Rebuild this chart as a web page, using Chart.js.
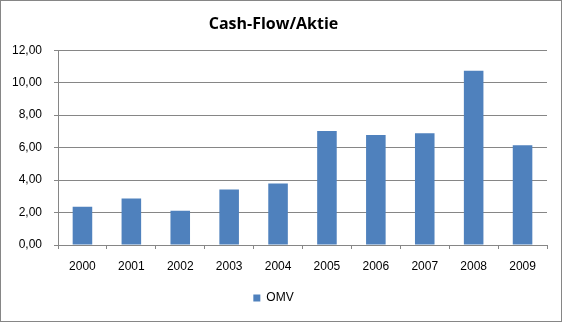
<!DOCTYPE html>
<html>
<head>
<meta charset="utf-8">
<script src="https://cdn.jsdelivr.net/npm/chart.js@4/dist/chart.umd.min.js"></script>
<style>
  html, body { margin: 0; padding: 0; background: #fff; }
  #wrap { width: 562px; height: 322px; }
</style>
</head>
<body>
<div id="wrap"><canvas id="myChart" width="562" height="322"></canvas></div>
<script>
// Daten
const years = ['2000', '2001', '2002', '2003', '2004', '2005', '2006', '2007', '2008', '2009'];
const omvValues = [2.36, 2.86, 2.11, 3.42, 3.79, 7.02, 6.77, 6.89, 10.74, 6.15];
const seriesName = 'OMV';
const chartTitle = 'Cash-Flow/Aktie';

const GRID = '#868686';
const FONT = 'Liberation Sans';

// Rahmen um das ganze Diagramm
const frame = {
    id: 'frame',
    afterDraw(chart) {
        const ctx = chart.ctx;
        ctx.save();
        ctx.strokeStyle = GRID;
        ctx.lineWidth = 1;
        ctx.strokeRect(0.5, 0.5, chart.width - 1, chart.height - 1);
        ctx.restore();
    }
};

function main() {
    const chartData = {
        labels: years,
        datasets: [{
            label: seriesName,
            backgroundColor: '#4F81BD',
            borderWidth: 0,
            data: omvValues,
            categoryPercentage: 1.0,
            barPercentage: 0.4
        }]
    };

    const config = {
        type: 'bar',
        data: chartData,
        options: {
            responsive: false,
            animation: false,
            layout: { padding: { left: 0, right: 15, top: 0, bottom: 8 } },
            plugins: {
                title: {
                    display: true,
                    text: chartTitle,
                    color: '#000',
                    font: { family: 'Open Sans', size: 16, weight: 'bold' },
                    padding: { top: 15, bottom: 16 }
                },
                legend: {
                    position: 'bottom',
                    labels: {
                        color: '#000',
                        font: { family: FONT, size: 12 },
                        boxWidth: 7,
                        boxHeight: 7,
                        padding: 7
                    }
                },
                tooltip: { enabled: false }
            },
            scales: {
                x: {
                    grid: { drawOnChartArea: false, drawTicks: true, tickLength: 4, color: GRID, offset: true },
                    border: { color: GRID },
                    ticks: { color: '#000', font: { family: FONT, size: 12 }, padding: 10 },
                    afterFit(scale) { scale.height = 40; }
                },
                y: {
                    min: 0,
                    max: 12,
                    grid: { color: GRID, tickLength: 4 },
                    border: { color: GRID },
                    ticks: {
                        stepSize: 2,
                        color: '#000',
                        font: { family: FONT, size: 12 },
                        padding: 12,
                        callback: v => v.toFixed(2).replace('.', ',')
                    },
                    afterFit(scale) { scale.width = 58; }
                }
            }
        },
        plugins: [frame]
    };

    new Chart(document.getElementById('myChart'), config);
}

document.addEventListener('DOMContentLoaded', function () {
    main();
});
</script>
</body>
</html>
